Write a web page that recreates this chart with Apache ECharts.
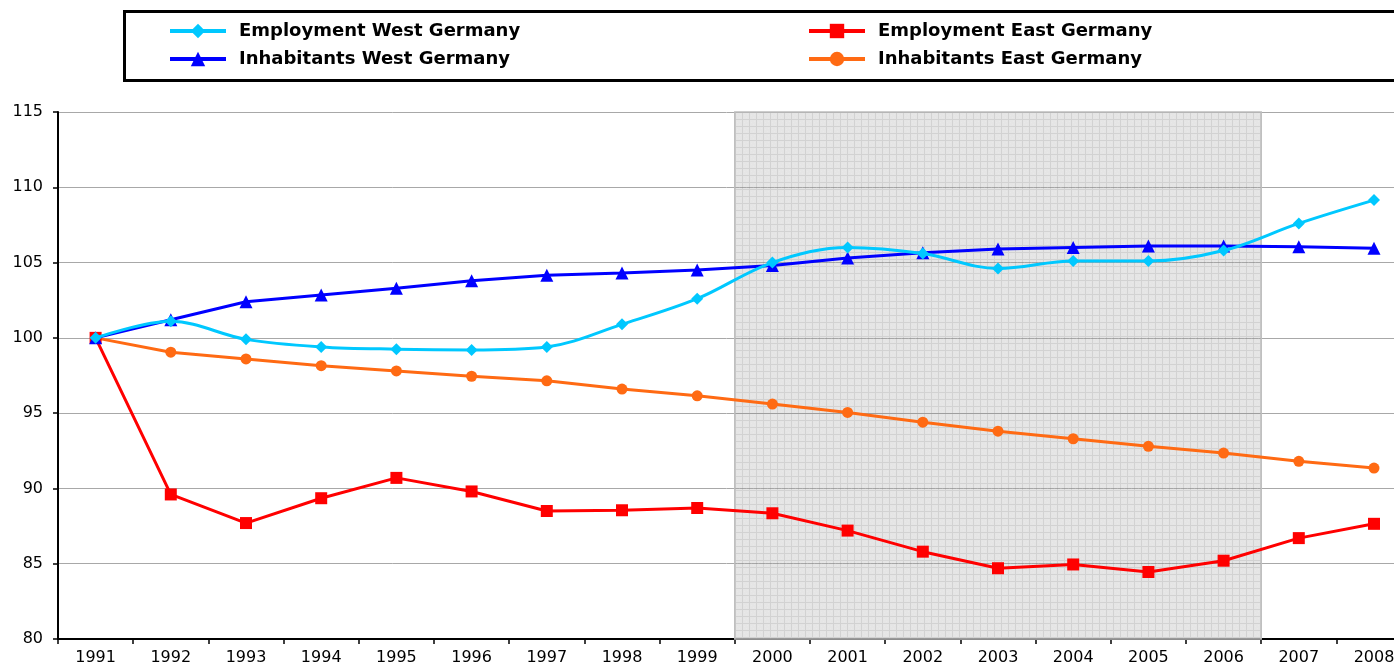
<!DOCTYPE html>
<html><head><meta charset="utf-8">
<script src="https://cdn.jsdelivr.net/npm/echarts@6/dist/echarts.min.js"></script>
<style>html,body{margin:0;padding:0;background:#fff}#c{width:1394px;height:666px}</style>
</head><body><div id="c"></div>
<script>
var years = ['1991','1992','1993','1994','1995','1996','1997','1998','1999','2000','2001','2002','2003','2004','2005','2006','2007','2008'];
var employmentWest = [100,101.1,99.9,99.4,99.25,99.2,99.4,100.9,102.6,105.0,106.0,105.6,104.6,105.1,105.1,105.8,107.6,109.15];
var inhabitantsWest = [100,101.2,102.4,102.85,103.3,103.8,104.15,104.3,104.5,104.8,105.3,105.65,105.9,106.0,106.1,106.1,106.05,105.95];
var employmentEast = [100,89.6,87.7,89.35,90.7,89.8,88.5,88.55,88.7,88.35,87.2,85.8,84.7,84.95,84.45,85.2,86.7,87.65];
var inhabitantsEast = [100,99.05,98.6,98.15,97.8,97.45,97.15,96.6,96.15,95.6,95.05,94.4,93.8,93.3,92.8,92.35,91.8,91.35];
var shadedFrom = 9, shadedTo = 16; // band boundaries: start of 2000 to end of 2006

var pat = document.createElement('canvas');
pat.width = 7; pat.height = 7;
var g = pat.getContext('2d');
g.fillStyle = 'rgba(160,160,160,0.28)';
g.fillRect(0,0,7,7);
g.fillStyle = 'rgba(130,130,130,0.18)';
g.fillRect(0,0,7,1);
g.fillRect(0,1,1,6);
g.fillStyle = 'rgba(255,255,255,0.12)';
g.fillRect(2,3,1,1); g.fillRect(4,5,1,1); g.fillRect(5,2,1,1);

var chart = echarts.init(document.getElementById('c'));
var labelFont = {fontFamily:'DejaVu Sans', fontSize:16, color:'#000'};
var legendText = {fontFamily:'DejaVu Sans', fontWeight:'bold', fontSize:18, color:'#000', padding:[0,0,0,8]};
chart.setOption({
  animation:false,
  graphic:[{type:'rect', left:122, top:9, shape:{x:0, y:0, width:1300, height:69}, style:{fill:'none', stroke:'#000', lineWidth:3}, z:100}],
  legend:[
    {data:['Employment West Germany','Inhabitants West Germany'], orient:'vertical', left:163, top:17, itemWidth:56, itemHeight:18, itemGap:10,
     lineStyle:{width:4}, textStyle:legendText},
    {data:['Employment East Germany','Inhabitants East Germany'], orient:'vertical', left:802, top:17, itemWidth:56, itemHeight:18, itemGap:10,
     lineStyle:{width:4}, textStyle:legendText}
  ],
  grid:{left:58, top:112, width:1353.6, height:527, outerBoundsMode:'none'},
  xAxis:[
    {type:'category', data:years, boundaryGap:true,
     axisLine:{lineStyle:{color:'#000', width:2}},
     axisTick:{show:true, length:5, lineStyle:{color:'#000', width:1.5}},
     axisLabel:Object.assign({margin:11}, labelFont), splitLine:{show:false}},
    {type:'value', min:0, max:18, show:false}
  ],
  yAxis:{type:'value', min:80, max:115, interval:5,
     axisLine:{show:true, lineStyle:{color:'#000', width:2}},
     axisTick:{show:true, length:5, lineStyle:{color:'#000', width:1.5}},
     axisLabel:Object.assign({margin:15}, labelFont),
     splitLine:{show:true, lineStyle:{color:'#a8a8a8', width:1}}},
  series:[
    {name:'Inhabitants East Germany', type:'line', data:inhabitantsEast, symbol:'circle', symbolSize:11,
     lineStyle:{color:'#ff6a13', width:3}, itemStyle:{color:'#ff6a13'}, z:2},
    {name:'Employment East Germany', type:'line', data:employmentEast, symbol:'rect', symbolSize:12,
     lineStyle:{color:'#ff0000', width:3}, itemStyle:{color:'#ff0000'}, z:3},
    {name:'Inhabitants West Germany', type:'line', data:inhabitantsWest, symbol:'triangle', symbolSize:13,
     lineStyle:{color:'#0000ff', width:3}, itemStyle:{color:'#0000ff'}, z:4},
    {name:'Employment West Germany', type:'line', data:employmentWest, symbol:'diamond', symbolSize:12, smooth:0.35,
     lineStyle:{color:'#00c8ff', width:3}, itemStyle:{color:'#00c8ff'}, z:5},
    {name:'shade', type:'line', xAxisIndex:1, yAxisIndex:0, data:[], z:20, silent:true,
     markArea:{silent:true, itemStyle:{color:{image:pat, repeat:'repeat'}, borderColor:'#bdbdbd', borderWidth:1.5},
       data:[[{xAxis:shadedFrom},{xAxis:shadedTo}]]}}
  ]
});
</script></body></html>
